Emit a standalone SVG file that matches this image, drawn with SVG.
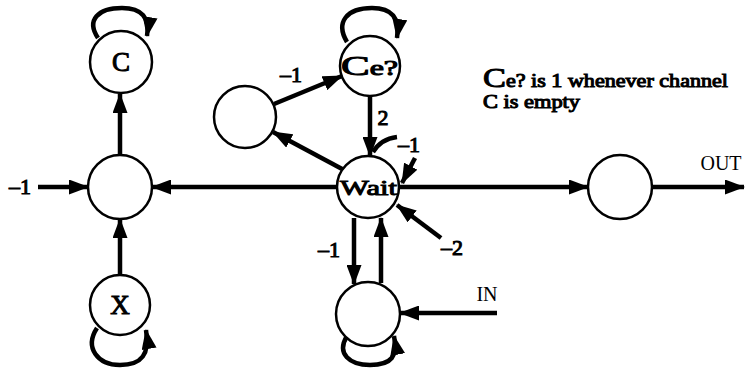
<svg xmlns="http://www.w3.org/2000/svg" width="746" height="368" viewBox="0 0 746 368">
<style>
.n{fill:#fff;stroke:#000;stroke-width:2.5}
.e{fill:none;stroke:#000;stroke-width:4.5}
.t{font-family:"Liberation Serif","DejaVu Serif",serif;font-weight:normal;fill:#000;stroke:#000;stroke-width:1}
.r{font-family:"Liberation Serif","DejaVu Serif",serif;fill:#000}
</style>
<defs>
<marker id="a" markerUnits="userSpaceOnUse" markerWidth="20" markerHeight="15" refX="19" refY="7.5" orient="auto">
<path d="M0,0 L20,7.5 L0,15 Z" fill="#000"/>
</marker>
</defs>
<rect width="746" height="368" fill="#fff"/>
<g id="connectors">
<line class="e" x1="38" y1="187" x2="88" y2="187" marker-end="url(#a)"/>
<line class="e" x1="120" y1="276" x2="120" y2="219" marker-end="url(#a)"/>
<line class="e" x1="120" y1="155" x2="120" y2="94" marker-end="url(#a)"/>
<line class="e" x1="337" y1="187" x2="152" y2="187" marker-end="url(#a)"/>
<line class="e" x1="400" y1="187" x2="588" y2="187" marker-end="url(#a)"/>
<line class="e" x1="652" y1="187" x2="744" y2="187" marker-end="url(#a)"/>
<line class="e" x1="274" y1="104" x2="342" y2="76" marker-end="url(#a)"/>
<line class="e" x1="344" y1="170" x2="273" y2="132" marker-end="url(#a)"/>
<line class="e" x1="370" y1="96" x2="370" y2="156" marker-end="url(#a)"/>
<path class="e" d="M397,137 Q381,139 373,152"/>
<line class="e" x1="415" y1="158" x2="402" y2="183" marker-end="url(#a)"/>
<line class="e" x1="441" y1="238" x2="397" y2="205" marker-end="url(#a)"/>
<line class="e" x1="354" y1="218" x2="354" y2="284" marker-end="url(#a)"/>
<line class="e" x1="381" y1="283" x2="381" y2="218" marker-end="url(#a)"/>
<line class="e" x1="497" y1="313" x2="400" y2="313" marker-end="url(#a)"/>
<path class="e" d="M98,38 C86,20 98,8 122,8 C142,8 150,18 147,36" marker-end="url(#a)"/>
<path class="e" d="M347,42 C335,22 347,8 372,8 C392,8 400,18 397,38" marker-end="url(#a)"/>
<path class="e" d="M97,328 C84,348 98,365 120,365 C142,365 150,354 146,330" marker-end="url(#a)"/>
<path class="e" d="M347,336 C336,354 350,365 370,365 C392,365 398,356 394,336" marker-end="url(#a)"/>
</g>
<g id="node-c"><circle class="n" cx="121" cy="62" r="31"/><text class="t" x="121" y="71" font-size="27" text-anchor="middle">C</text></g>
<g id="node-mid"><circle class="n" cx="120" cy="187" r="32"/></g>
<g id="node-x"><circle class="n" cx="120" cy="305" r="30"/><text class="t" x="120" y="314" font-size="27" text-anchor="middle">X</text></g>
<g id="node-left"><circle class="n" cx="245" cy="117" r="31"/></g>
<g id="node-ce"><circle class="n" cx="370" cy="66" r="30"/><text class="t" x="341" y="75" font-size="27" textLength="57" lengthAdjust="spacingAndGlyphs">C<tspan font-size="20">e?</tspan></text></g>
<g id="node-wait"><circle class="n" cx="368" cy="187" r="31"/><text class="t" x="340" y="195" font-size="22" textLength="57" lengthAdjust="spacingAndGlyphs">Wait</text></g>
<g id="node-bottom"><circle class="n" cx="368" cy="314" r="32"/></g>
<g id="node-right"><circle class="n" cx="620" cy="187" r="32"/></g>
<g id="labels">
<text class="t" x="20" y="194" font-size="22" text-anchor="middle">–1</text>
<text class="t" x="291" y="82" font-size="22" text-anchor="middle">–1</text>
<text class="t" x="383" y="125" font-size="22" text-anchor="middle">2</text>
<text class="t" x="409" y="152" font-size="22" text-anchor="middle">–1</text>
<text class="t" x="452" y="255" font-size="22" text-anchor="middle">–2</text>
<text class="t" x="329" y="257" font-size="22" text-anchor="middle">–1</text>
<text class="r" x="487" y="301" font-size="20" text-anchor="middle">IN</text>
<text class="r" x="721" y="170" font-size="20" text-anchor="middle">OUT</text>
<text class="t" x="483" y="87" font-size="18" textLength="245" lengthAdjust="spacingAndGlyphs"><tspan font-size="28">C</tspan>e? is 1 whenever channel</text>
<text class="t" x="483" y="108" font-size="18" textLength="97" lengthAdjust="spacingAndGlyphs">C is empty</text>
</g>
</svg>
